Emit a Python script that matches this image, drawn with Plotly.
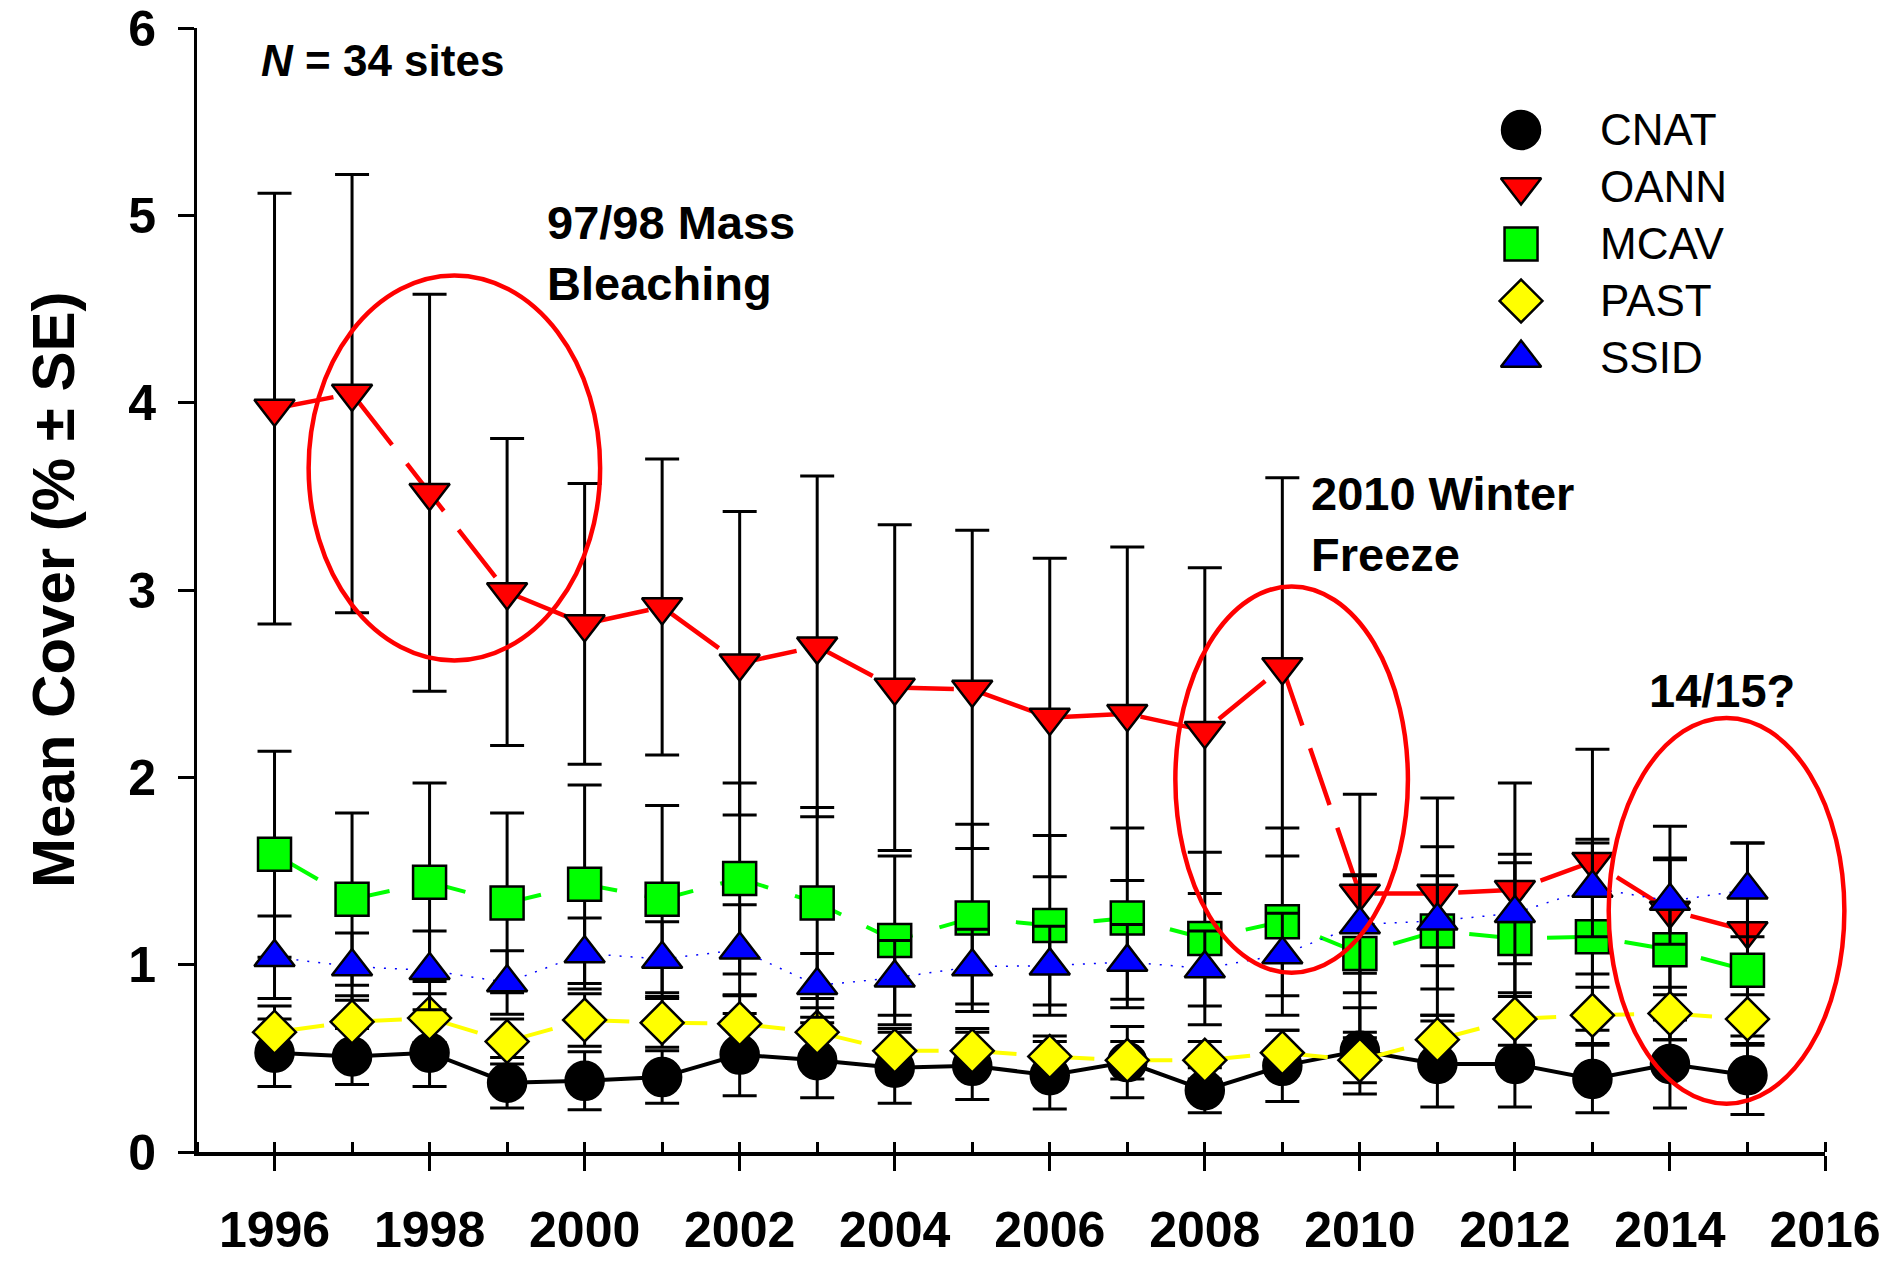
import plotly.graph_objects as go

# ---------------- data ----------------
years = list(range(1996, 2016))

cnat_mean = [0.53, 0.51, 0.53, 0.37, 0.38, 0.40, 0.52, 0.49, 0.45, 0.46,
             0.41, 0.48, 0.33, 0.46, 0.54, 0.47, 0.47, 0.39, 0.47, 0.41]
cnat_se = [0.18, 0.15, 0.18, 0.135, 0.155, 0.14, 0.22, 0.20, 0.19, 0.18,
           0.18, 0.19, 0.12, 0.19, 0.23, 0.23, 0.23, 0.18, 0.235, 0.21]

oann_mean = [3.97, 4.05, 3.52, 2.99, 2.82, 2.91, 2.61, 2.70, 2.48, 2.47,
             2.32, 2.34, 2.25, 2.59, 1.38, 1.38, 1.40, 1.55, 1.29, 1.18]
oann_se = [1.15, 1.17, 1.06, 0.82, 0.75, 0.79, 0.81, 0.91, 0.87, 0.85,
           0.85, 0.89, 0.87, 1.01, 0.53, 0.51, 0.57, 0.60, 0.45, 0.47]

mcav_mean = [1.59, 1.35, 1.44, 1.33, 1.43, 1.35, 1.46, 1.33, 1.13, 1.25,
             1.21, 1.25, 1.14, 1.23, 1.06, 1.18, 1.14, 1.15, 1.08, 0.97]
mcav_se = [0.55, 0.46, 0.53, 0.48, 0.53, 0.50, 0.51, 0.51, 0.45, 0.50,
           0.48, 0.48, 0.46, 0.50, 0.42, 0.45, 0.45, 0.50, 0.48, 0.40]

past_mean = [0.64, 0.695, 0.715, 0.59, 0.705, 0.69, 0.685, 0.64, 0.54, 0.54,
             0.51, 0.49, 0.49, 0.53, 0.49, 0.60, 0.71, 0.73, 0.74, 0.71]
past_se = [0.14, 0.14, 0.13, 0.12, 0.14, 0.13, 0.15, 0.13, 0.12, 0.12,
           0.11, 0.10, 0.10, 0.12, 0.12, 0.13, 0.14, 0.15, 0.14, 0.13]

ssid_mean = [1.04, 0.99, 0.97, 0.905, 1.06, 1.03, 1.08, 0.89, 0.93, 0.99,
             0.995, 1.015, 0.98, 1.055, 1.215, 1.235, 1.275, 1.41, 1.34, 1.40]
ssid_se = [0.22, 0.18, 0.21, 0.17, 0.19, 0.20, 0.24, 0.17, 0.20, 0.20,
           0.21, 0.20, 0.20, 0.22, 0.26, 0.24, 0.27, 0.26, 0.23, 0.25]

species = ["CNAT", "OANN", "MCAV", "PAST", "SSID"]
x_ticks = list(range(1996, 2017, 2))
y_ticks = list(range(0, 7))

# annotation ellipses: (year0, year1, value0, value1)
ellipses = [(1996.44, 2000.20, 2.625, 4.68),
            (2007.62, 2010.62, 0.957, 3.02),
            (2013.21, 2016.25, 0.258, 2.318)]

# ---------------- styling ----------------
FONT = "Liberation Sans, Arial, sans-serif"
X_RANGE = [1995, 2016]
Y_RANGE = [0, 6.002]

styles = {
    "CNAT": dict(color="#000000", symbol="circle", size=38,
                 line=dict(color="#000000", width=4)),
    "OANN": dict(color="#FF0000", symbol="triangle-down", size=35,
                 line=dict(color="#FF0000", width=4.5, dash="60px,24px")),
    "MCAV": dict(color="#00FF00", symbol="square", size=33,
                 line=dict(color="#00FF00", width=4, dash="50px,28px")),
    "PAST": dict(color="#FFFF00", symbol="diamond", size=33,
                 line=dict(color="#FFFF00", width=4, dash="50px,28px")),
    "SSID": dict(color="#0000FF", symbol="triangle-up", size=35,
                 line=dict(color="#0000FF", width=1.5, dash="2px,9px")),
}
series = {
    "CNAT": (cnat_mean, cnat_se),
    "OANN": (oann_mean, oann_se),
    "MCAV": (mcav_mean, mcav_se),
    "PAST": (past_mean, past_se),
    "SSID": (ssid_mean, ssid_se),
}

fig = go.Figure()
for name in species:
    mean, se = series[name]
    st = styles[name]
    fig.add_trace(go.Scatter(
        x=years, y=mean, name=name, mode="lines+markers", showlegend=False,
        line=st["line"],
        marker=dict(symbol=st["symbol"], size=st["size"], color=st["color"],
                    line=dict(color="black", width=2.5)),
        error_y=dict(type="data", array=se, visible=True, color="black",
                     thickness=3, width=17),
        cliponaxis=False,
    ))

# custom legend (large markers) on an auxiliary axis pair
leg_rows = list(range(len(species)))
for i, name in enumerate(species):
    st = styles[name]
    fig.add_trace(go.Scatter(
        x=[41], y=[leg_rows[i]], mode="markers", showlegend=False,
        marker=dict(symbol=st["symbol"], size=st["size"], color=st["color"],
                    line=dict(color="black", width=2.5)),
        xaxis="x2", yaxis="y2", hoverinfo="skip",
    ))
    fig.add_annotation(x=118, y=leg_rows[i], xref="x2", yref="y2",
                       text=name, showarrow=False, xanchor="left",
                       yanchor="middle", font=dict(family=FONT, size=44,
                                                   color="black"))

# ellipses (paper coordinates derived from the axis ranges so they are not clipped)
def px(v):
    return (v - X_RANGE[0]) / (X_RANGE[1] - X_RANGE[0])

def py(v):
    return (v - Y_RANGE[0]) / (Y_RANGE[1] - Y_RANGE[0])

for (x0, x1, y0, y1) in ellipses:
    fig.add_shape(type="circle", xref="paper", yref="paper",
                  x0=px(x0), x1=px(x1), y0=py(y0), y1=py(y1),
                  line=dict(color="#FF0000", width=4.5), layer="above")

ann_font = dict(family=FONT, size=47, color="black", weight="bold")
fig.add_annotation(x=1995.8, y=5.83, xref="x", yref="y",
                   text="<i>N</i> = 34 sites", showarrow=False,
                   xanchor="left", yanchor="middle",
                   font=dict(family=FONT, size=44, color="black", weight="bold"))
fig.add_annotation(x=1999.49, y=4.80, xref="x", yref="y",
                   text="97/98 Mass<br>Bleaching", showarrow=False,
                   xanchor="left", yanchor="middle", align="left", font=ann_font)
fig.add_annotation(x=2009.35, y=3.356, xref="x", yref="y",
                   text="2010 Winter<br>Freeze", showarrow=False,
                   xanchor="left", yanchor="middle", align="left", font=ann_font)
fig.add_annotation(x=2013.71, y=2.467, xref="x", yref="y",
                   text="14/15?", showarrow=False,
                   xanchor="left", yanchor="middle", align="left", font=ann_font)

# y-axis title
fig.add_annotation(x=-0.0885, y=0.5, xref="paper", yref="paper",
                   text="Mean Cover (% ± SE)", textangle=-90, showarrow=False,
                   xanchor="center", yanchor="middle",
                   font=dict(family=FONT, size=60, color="black", weight="bold"))

tick_font = dict(family=FONT, size=50, color="black", weight="bold")

# page body has an 8px margin, so the figure is sized to fit the window
fig.update_layout(
    template="none",
    width=1884, height=1253, autosize=False,
    margin=dict(l=189, r=67, t=20, b=109, autoexpand=False),
    paper_bgcolor="white", plot_bgcolor="white",
    showlegend=False,
    xaxis=dict(
        range=X_RANGE, tickmode="array", tickvals=x_ticks,
        ticktext=[str(t) for t in x_ticks], automargin=False,
        ticks="outside", ticklen=15, tickwidth=3, tickcolor="black",
        showline=True, linewidth=4, linecolor="black",
        showgrid=False, zeroline=False, tickfont=tick_font,
        ticklabelstandoff=16,
        minor=dict(ticks="inside", ticklen=10, tickwidth=3, tickcolor="black",
                   dtick=1, tick0=1995, showgrid=False),
    ),
    yaxis=dict(
        range=Y_RANGE, tickmode="array", tickvals=y_ticks,
        ticktext=[str(t) for t in y_ticks], automargin=False,
        ticks="outside", ticklen=16, tickwidth=3, tickcolor="black",
        showline=True, linewidth=3, linecolor="black",
        showgrid=False, zeroline=False, tickfont=tick_font,
        ticklabelstandoff=12, ticklabeloverflow="allow",
    ),
    xaxis2=dict(domain=[0.7881, 0.9724], range=[0, 300], visible=False,
                anchor="y2", fixedrange=True, showgrid=False, zeroline=False),
    yaxis2=dict(domain=[0.6811, 0.9346], range=[4.5, -0.5], visible=False,
                anchor="x2", fixedrange=True, showgrid=False, zeroline=False),
)

fig.write_html("out.html")
